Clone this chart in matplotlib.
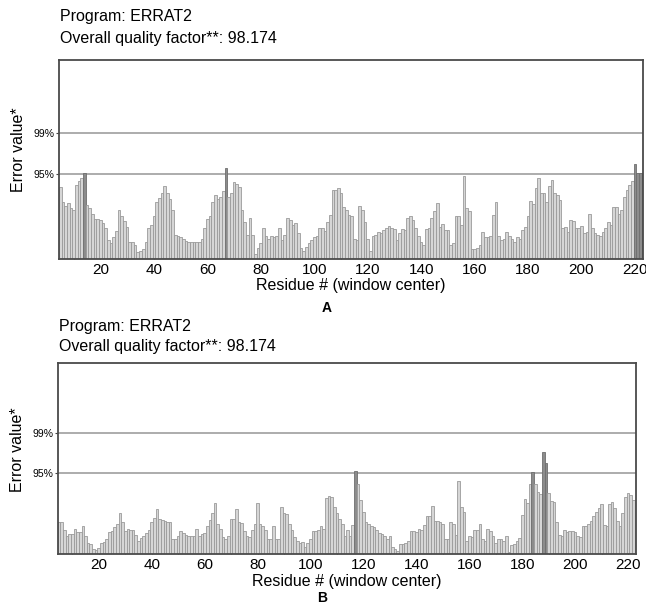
import matplotlib
matplotlib.use("Agg")
import matplotlib.pyplot as plt
from matplotlib.ticker import MultipleLocator

plt.rcParams["font.family"] = ["Liberation Sans", "DejaVu Sans"]

# residue numbers (window centers)
residues = list(range(5, 223))

# error values, panel A
errat_a = [
    9.7, 7.6, 7.1, 7.5, 6.8, 6.5, 10.0, 10.5, 10.9, 11.6,
    7.2, 6.8, 6.0, 5.4, 5.4, 5.2, 4.8, 4.1, 2.5, 2.1,
    2.9, 3.8, 6.5, 5.7, 5.1, 4.3, 2.3, 2.2, 1.9, 0.9,
    1.1, 1.3, 2.3, 4.1, 4.6, 5.7, 7.6, 8.2, 8.9, 9.8,
    8.9, 8.0, 6.5, 3.2, 3.1, 2.9, 2.7, 2.4, 2.3, 2.2,
    2.2, 2.2, 2.3, 2.7, 4.2, 5.4, 5.7, 7.6, 8.6, 8.0,
    8.3, 9.1, 12.2, 8.3, 8.9, 10.3, 10.1, 9.7, 6.5, 5.0,
    3.2, 5.5, 3.2, 0.6, 1.4, 2.1, 4.2, 3.0, 2.7, 3.1,
    2.9, 3.0, 4.1, 2.5, 3.2, 5.5, 5.2, 4.6, 4.8, 3.4,
    1.4, 1.1, 1.6, 2.1, 2.5, 2.9, 3.0, 4.1, 4.1, 3.8,
    5.0, 5.9, 9.2, 9.2, 9.6, 8.8, 7.0, 6.5, 5.9, 5.7,
    2.7, 2.5, 7.1, 6.5, 5.0, 2.6, 1.1, 3.1, 3.2, 3.6,
    3.5, 3.9, 4.2, 4.4, 4.1, 4.0, 2.5, 3.4, 4.0, 3.9,
    5.5, 5.7, 5.2, 4.1, 3.0, 2.3, 1.9, 4.0, 4.1, 5.5,
    6.4, 7.5, 4.3, 4.7, 3.9, 3.9, 1.8, 2.1, 5.7, 5.7,
    4.6, 11.2, 6.8, 6.4, 1.3, 1.3, 1.4, 1.8, 3.6, 2.9,
    2.9, 3.1, 5.9, 7.6, 3.1, 2.5, 2.6, 3.6, 3.1, 2.7,
    2.3, 2.9, 2.7, 3.9, 4.3, 5.7, 7.8, 7.4, 9.5, 10.9,
    8.8, 8.8, 7.6, 9.8, 10.6, 8.8, 8.6, 7.9, 4.1, 4.3,
    3.6, 5.2, 5.1, 4.1, 4.2, 4.4, 3.4, 3.6, 6.0, 4.2,
    3.5, 3.2, 3.1, 3.6, 4.1, 5.0, 4.6, 7.0, 7.0, 6.0,
    6.5, 8.3, 9.3, 10.0, 10.5, 12.8, 11.5, 11.5,
]

# error values, panel B
errat_b = [
    4.6, 4.6, 3.4, 2.6, 2.9, 2.9, 3.5, 3.1, 3.1, 4.0,
    2.5, 1.6, 1.4, 0.8, 0.6, 0.9, 1.6, 1.7, 2.1, 3.1,
    3.2, 3.8, 4.3, 5.8, 4.6, 3.2, 3.5, 3.4, 3.4, 2.7,
    1.8, 2.3, 2.6, 3.0, 3.4, 4.6, 5.1, 6.4, 5.0, 4.8,
    4.7, 4.6, 4.6, 2.1, 2.1, 2.5, 3.2, 3.0, 2.7, 2.6,
    2.5, 2.5, 3.6, 2.6, 2.9, 3.0, 4.0, 4.8, 5.8, 7.2,
    4.3, 3.6, 2.4, 2.1, 2.5, 4.9, 5.0, 6.4, 4.6, 4.4,
    3.2, 2.5, 2.4, 3.4, 4.3, 7.2, 4.3, 4.0, 3.4, 2.2,
    2.2, 4.0, 2.1, 2.2, 6.7, 5.8, 5.6, 4.3, 3.4, 2.4,
    1.8, 1.6, 1.7, 1.0, 1.6, 2.2, 3.2, 3.3, 3.4, 3.9,
    3.6, 7.9, 8.2, 8.0, 6.7, 5.8, 5.0, 4.3, 2.5, 3.4,
    2.6, 4.1, 11.7, 9.9, 7.6, 6.0, 4.6, 4.3, 3.9, 3.8,
    3.4, 3.0, 2.9, 2.6, 2.1, 2.5, 1.0, 0.8, 0.5, 1.4,
    1.5, 1.6, 1.8, 3.2, 3.3, 3.1, 3.5, 3.4, 4.1, 5.4,
    5.4, 6.8, 4.7, 4.7, 4.6, 4.3, 2.1, 2.2, 4.6, 4.2,
    2.7, 10.3, 6.6, 6.0, 1.8, 2.5, 2.4, 3.4, 3.4, 4.2,
    2.1, 1.9, 3.6, 3.2, 2.5, 1.6, 2.1, 2.2, 1.8, 2.5,
    0.3, 1.3, 1.4, 1.8, 2.3, 5.5, 7.8, 7.2, 9.8, 11.5,
    9.8, 8.8, 8.4, 14.3, 12.8, 8.6, 7.5, 7.3, 4.6, 2.7,
    2.5, 3.4, 3.1, 3.2, 3.3, 3.1, 2.6, 2.4, 4.0, 3.9,
    4.3, 4.7, 5.4, 6.0, 6.5, 7.0, 4.1, 3.9, 7.1, 7.4,
    6.5, 4.7, 3.9, 5.8, 8.1, 8.6, 8.3, 7.6,
]

limit_95 = 11.4
limit_99 = 17.0
limit_labels = ["99%", "95%"]
program_name = "Program: ERRAT2"
quality_text = "Overall quality factor**: 98.174"


def draw_panel(ax, values):
    fills = ["#8c8c8c" if v > limit_95 else "#d6d6d6" for v in values]
    edges = ["#6e6e6e" if v > limit_95 else "#9a9a9a" for v in values]
    ax.axhline(limit_99, color="#a6a6a6", linewidth=1.3, zorder=1)
    ax.axhline(limit_95, color="#a6a6a6", linewidth=1.3, zorder=1)
    ax.bar(residues, values, width=1.0, color=fills, edgecolor=edges,
           linewidth=0.6, zorder=2)

    ax.set_xlim(4.5, 223.0)
    ax.set_ylim(0, 26.8)
    ax.xaxis.set_major_locator(MultipleLocator(20))
    ax.xaxis.set_minor_locator(MultipleLocator(10))
    ax.tick_params(axis="x", which="both", direction="in", length=3,
                   color="#444444", labelsize=11, pad=3)
    ax.set_yticks([limit_99, limit_95])
    ax.set_yticklabels(limit_labels)
    ax.tick_params(axis="y", length=2, color="#444444", labelsize=7.5, pad=1)

    for spine in ax.spines.values():
        spine.set_color("#4a4a4a")
        spine.set_linewidth(1.3)

    ax.set_xlabel("Residue # (window center)", fontsize=11.5, labelpad=1)
    ax.set_ylabel("Error value*", fontsize=11.5)
    ax.yaxis.set_label_coords(-0.056, 0.55)


fig = plt.figure(figsize=(6.46, 6.12), dpi=100)

ax_a = fig.add_axes([0.0913, 0.5773, 0.904, 0.3247])
ax_b = fig.add_axes([0.0893, 0.0943, 0.8952, 0.3121])

draw_panel(ax_a, errat_a)
draw_panel(ax_b, errat_b)

fig.text(0.093, 1 - 17 / 612, program_name, fontsize=11.5, va="center")
fig.text(0.093, 1 - 38 / 612, quality_text, fontsize=11.5, va="center")
fig.text(0.091, 1 - 327 / 612, program_name, fontsize=11.5, va="center")
fig.text(0.091, 1 - 347 / 612, quality_text, fontsize=11.5, va="center")

fig.text(327 / 646, 1 - 308 / 612, "A", fontsize=10, fontweight="bold",
         ha="center", va="center")
fig.text(322 / 646, 1 - 598 / 612, "B", fontsize=10, fontweight="bold",
         ha="center", va="center")

fig.savefig("out.png", dpi=100)
